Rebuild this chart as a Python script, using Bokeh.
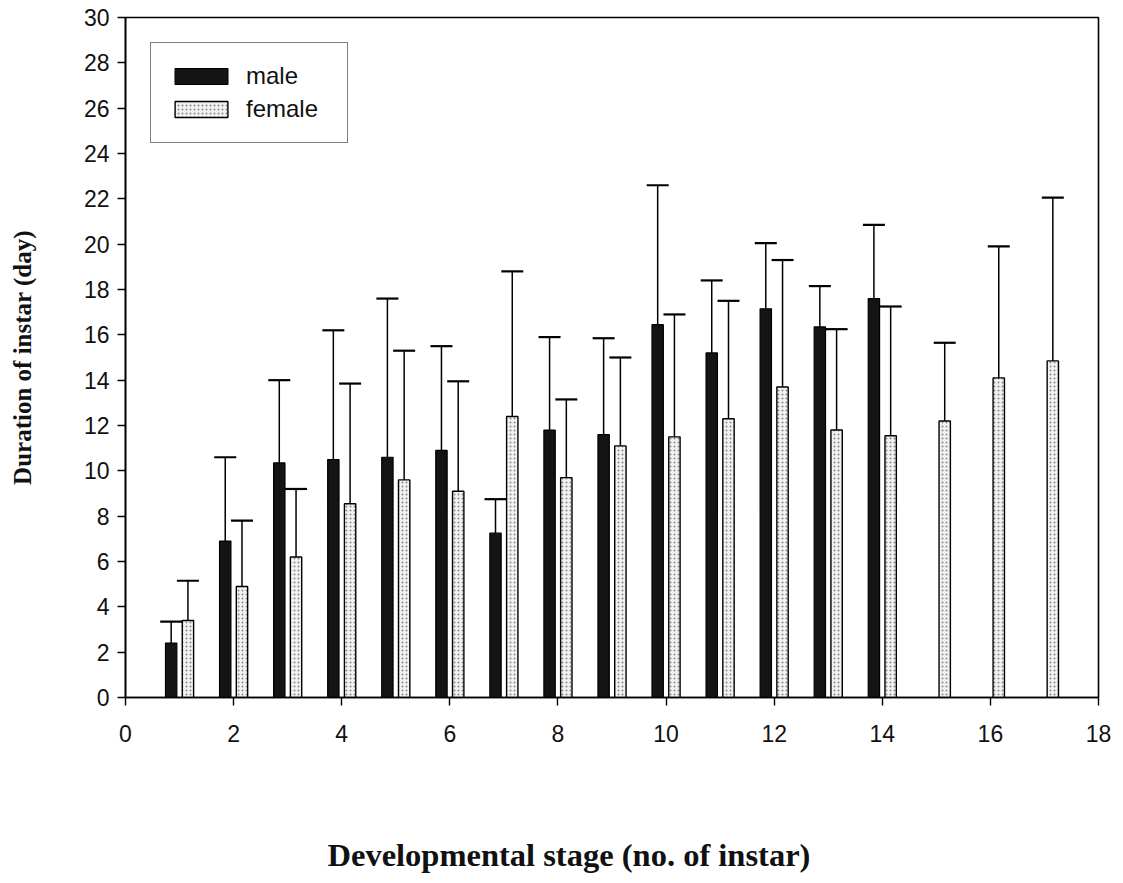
from bokeh.plotting import figure
from bokeh.models import (ColumnDataSource, Whisker, TeeHead, Legend, LegendItem,
                          FixedTicker, Range1d, Title)
from bokeh.transform import dodge
from bokeh.embed import file_html
from bokeh.resources import INLINE

# ---- data ----
male_stage = [1, 2, 3, 4, 5, 6, 7, 8, 9, 10, 11, 12, 13, 14]
male_mean = [2.4, 6.9, 10.35, 10.5, 10.6, 10.9, 7.25, 11.8, 11.6, 16.45, 15.2, 17.15, 16.35, 17.6]
male_sd = [0.95, 3.7, 3.65, 5.7, 7.0, 4.6, 1.5, 4.1, 4.25, 6.15, 3.2, 2.9, 1.8, 3.25]

female_stage = [1, 2, 3, 4, 5, 6, 7, 8, 9, 10, 11, 12, 13, 14, 15, 16, 17]
female_mean = [3.4, 4.9, 6.2, 8.55, 9.6, 9.1, 12.4, 9.7, 11.1, 11.5, 12.3, 13.7, 11.8, 11.55, 12.2, 14.1, 14.85]
female_sd = [1.75, 2.9, 3.0, 5.3, 5.7, 4.85, 6.4, 3.45, 3.9, 5.4, 5.2, 5.6, 4.45, 5.7, 3.45, 5.8, 7.2]

x_ticks = [0, 2, 4, 6, 8, 10, 12, 14, 16, 18]
y_ticks = [0, 2, 4, 6, 8, 10, 12, 14, 16, 18, 20, 22, 24, 26, 28, 30]

x_title = "Developmental stage (no. of instar)"
y_title = "Duration of instar (day)"

male_src = ColumnDataSource(dict(stage=male_stage, mean=male_mean,
                                 upper=[m + s for m, s in zip(male_mean, male_sd)]))
female_src = ColumnDataSource(dict(stage=female_stage, mean=female_mean,
                                   upper=[m + s for m, s in zip(female_mean, female_sd)]))

p = figure(width=1115, height=875, output_backend="svg", toolbar_location=None,
           x_range=Range1d(0, 18), y_range=Range1d(0, 30),
           min_border_left=125, min_border_right=17, min_border_top=17, min_border_bottom=178,
           frame_width=973, frame_height=680)

p.background_fill_color = "white"
p.border_fill_color = "white"
p.outline_line_color = "black"
p.outline_line_width = 1.6
p.xgrid.visible = False
p.ygrid.visible = False

OFF = 0.155
W = 0.21

r_male = p.vbar(x=dodge("stage", -OFF, range=p.x_range), top="mean", bottom=0, width=W,
                source=male_src, fill_color="#141414", line_color="black", line_width=1.2)
r_female = p.vbar(x=dodge("stage", OFF, range=p.x_range), top="mean", bottom=0, width=W,
                  source=female_src, fill_color="#f2f2f2", line_color="black", line_width=1.4,
                  hatch_pattern=".", hatch_color="#8a8a8a", hatch_scale=4, hatch_weight=0.8)

for src, off in ((male_src, -OFF), (female_src, OFF)):
    wk = Whisker(source=src, base=dodge("stage", off, range=p.x_range), upper="upper", lower="mean",
                 line_color="black", line_width=1.5, lower_head=None,
                 upper_head=TeeHead(size=22, line_color="black", line_width=2.2))
    p.add_layout(wk)

# axes
for ax in (p.xaxis[0], p.yaxis[0]):
    ax.axis_line_color = "black"
    ax.axis_line_width = 1.6
    ax.major_tick_line_color = "black"
    ax.major_tick_line_width = 1.4
    ax.major_tick_out = 8
    ax.major_tick_in = 0
    ax.minor_tick_line_color = None
    ax.major_label_text_font = "Liberation Sans"
    ax.major_label_text_font_size = "23px"
    ax.major_label_text_color = "#111111"

p.xaxis.ticker = FixedTicker(ticks=x_ticks)
p.yaxis.ticker = FixedTicker(ticks=y_ticks)
p.xaxis.major_label_standoff = 19
p.yaxis.major_label_standoff = 8

p.yaxis.axis_label = y_title
p.yaxis.axis_label_text_font = "Liberation Serif"
p.yaxis.axis_label_text_font_style = "bold"
p.yaxis.axis_label_text_font_size = "25px"
p.yaxis.axis_label_text_color = "#111111"
p.yaxis.axis_label_standoff = 45

# x axis title, left-shifted like the reference (a blank spacer pushes it down)
p.add_layout(Title(text=" ", text_font_size="2px", standoff=86), "below")
p.add_layout(Title(text=x_title, align="left", offset=202, standoff=0,
                   text_font="Liberation Serif", text_font_style="bold",
                   text_font_size="32.5px", text_color="#111111"), "below")

legend = Legend(items=[LegendItem(label="male", renderers=[r_male]),
                       LegendItem(label="female", renderers=[r_female])],
                location="top_left", margin=25, padding=17, spacing=1,
                glyph_width=66, glyph_height=20, label_standoff=12,
                label_height=32, label_width=84,
                label_text_font="Liberation Sans", label_text_font_size="24px",
                label_text_color="#111111",
                border_line_color="black", border_line_width=1.8,
                background_fill_alpha=1.0)
p.add_layout(legend)

open("out.html", "w").write(file_html(p, INLINE))
